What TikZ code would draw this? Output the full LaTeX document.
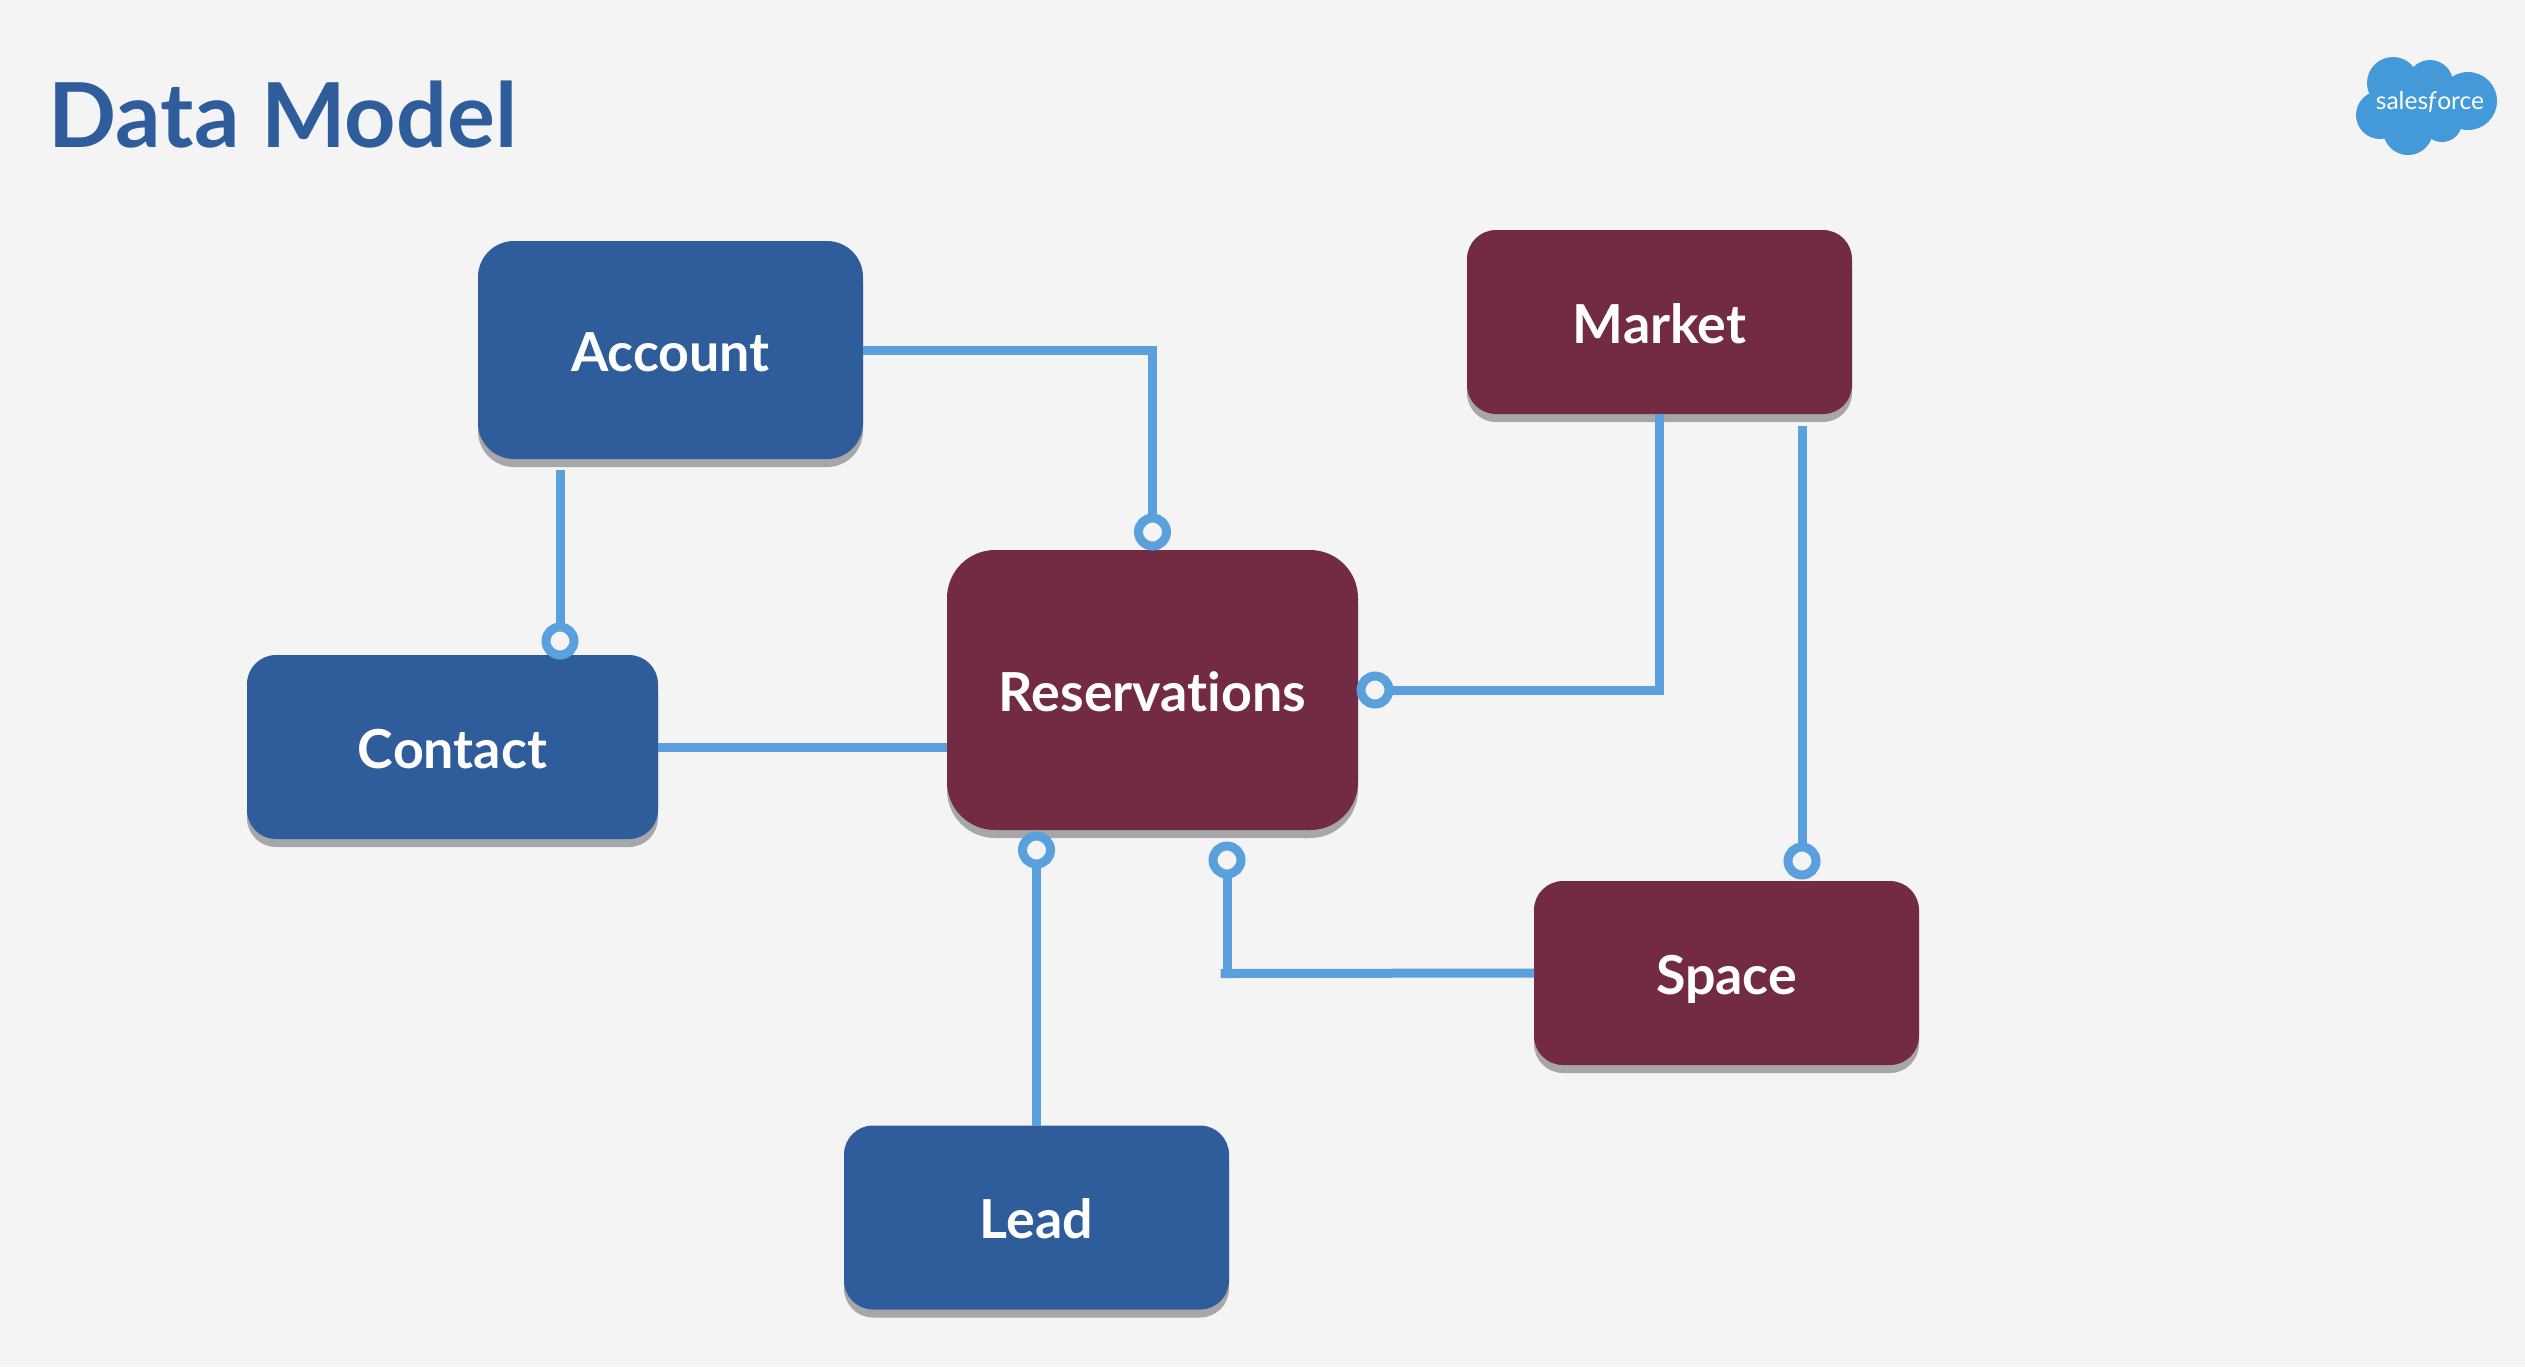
\documentclass[tikz,border=0pt]{standalone}
\usepackage{fontspec}
\setmainfont{Lato}[Ligatures=NoCommon]
\usepackage{tikz}
\usetikzlibrary{shadows}
\definecolor{pagebg}{HTML}{F4F4F4}
\definecolor{navy}{HTML}{2F5D9B}
\definecolor{wine}{HTML}{732B44}
\definecolor{wire}{HTML}{5AA0DC}
\definecolor{cloud}{HTML}{4499D9}
\definecolor{lowside}{HTML}{A7A7A9}
\begin{document}
\begin{tikzpicture}[
  box/.style={rounded corners=0.29cm, minimum width=3.85cm, minimum height=1.84cm, inner sep=0pt, outer sep=0pt, text=white, text height=12pt, text depth=0pt, font=\fontsize{15.3}{18}\selectfont\bfseries,
    general shadow={fill=lowside, shadow yshift=-0.08cm}},
  link/.style={draw=wire, line width=0.09cm},
  port/.style={circle, draw=wire, line width=0.09cm, fill=pagebg, minimum size=0.28cm, inner sep=0pt, outer sep=0pt}
]
\useasboundingbox (0,0) rectangle (25.25,-13.67);
\fill[pagebg] (0,0) rectangle (25.25,-13.67);

\node[anchor=west, text=navy, inner sep=0pt, font=\fontsize{25.5}{30}\selectfont\bfseries] (title) at (0.48,-1.15) {Data Model};

% logo
\foreach \cx/\cy/\cr in {23.93/-0.83/0.26, 24.30/-0.83/0.23, 24.68/-1.01/0.29, 23.80/-1.15/0.24, 24.08/-1.30/0.25, 24.42/-1.22/0.20, 24.25/-1.05/0.30}
  \fill[cloud] (\cx,\cy) circle (\cr);
\node[text=white, inner sep=0pt, font=\fontsize{7}{8}\selectfont] (brand) at (24.30,-1.02) {sales\textit{f}orce};

\node[box, fill=navy, rounded corners=0.36cm, minimum height=2.18cm] (account) at (6.705,-3.50) {Account};
\node[box, fill=navy, minimum width=4.11cm] (contact) at (4.525,-7.47) {Contact};
\node[box, fill=navy] (lead) at (10.365,-12.175) {Lead};
\node[box, fill=wine, rounded corners=0.48cm, minimum width=4.11cm, minimum height=2.80cm] (reservations) at (11.525,-6.90) {Reservations};
\node[box, fill=wine] (market) at (16.595,-3.22) {Market};
\node[box, fill=wine] (space) at (17.265,-9.73) {Space};

\coordinate (accountfoot) at (5.60,-4.70);
\coordinate (marketfoot) at (18.02,-4.26);
\coordinate (spacebend) at (12.205,-9.735);
\node[port] (portcontact) at (5.60,-6.41) {};
\node[port] (portaccount) at (11.525,-5.32) {};
\node[port] (portlead) at (10.365,-8.50) {};
\node[port] (portspace) at (12.27,-8.60) {};
\node[port] (portmarket) at (13.75,-6.90) {};
\node[port] (portright) at (18.02,-8.61) {};

\draw[link] (accountfoot) -- (portcontact);
\draw[link] (account.east) -| (portaccount);
\draw[link] (contact.east) -- (contact.east -| reservations.west);
\draw[link] (lead.north) -- (portlead);
\draw[link] (space.west) -- (spacebend);
\draw[link] (portspace) -- (portspace |- spacebend);
\draw[link] (market.south) |- (portmarket);
\draw[link] (marketfoot) -- (portright);
\end{tikzpicture}
\end{document}
